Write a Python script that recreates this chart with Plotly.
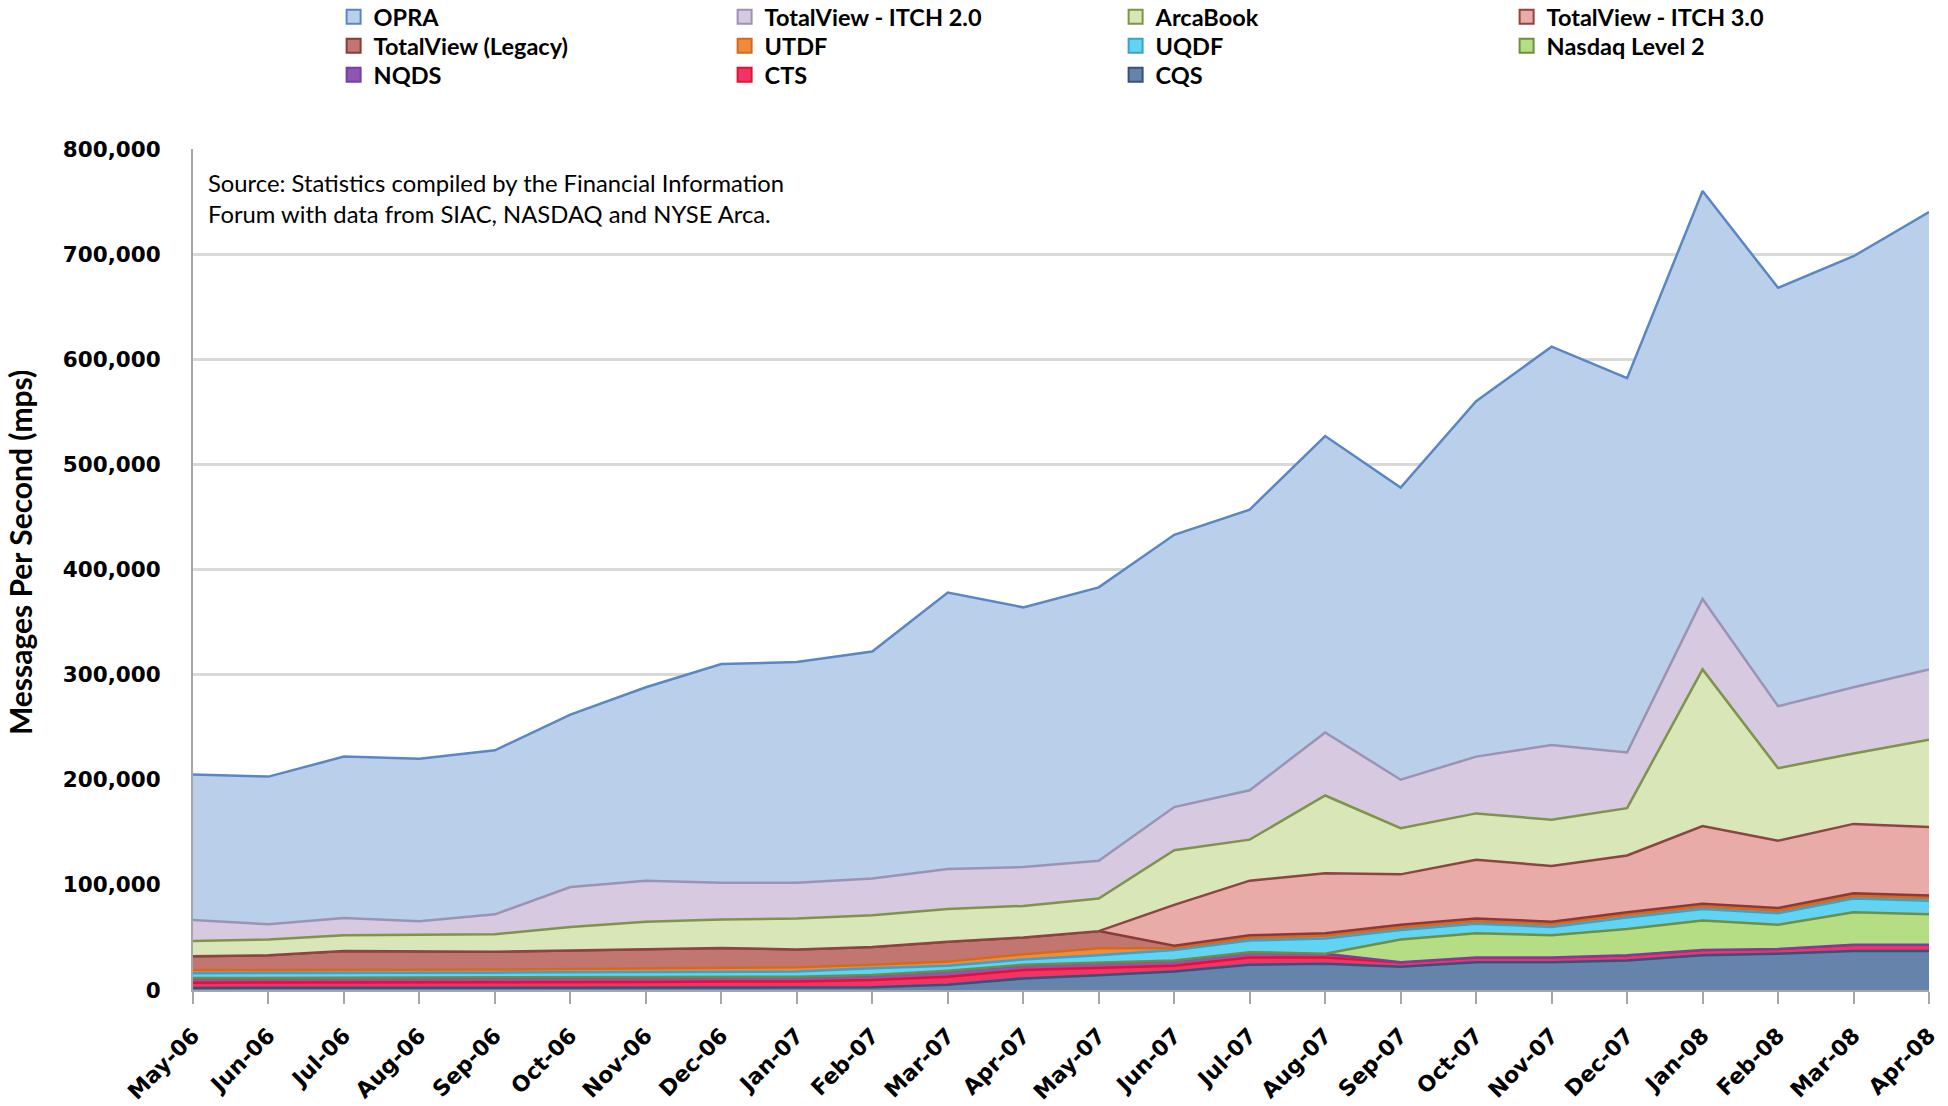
import plotly.graph_objects as go

months = ["May-06", "Jun-06", "Jul-06", "Aug-06", "Sep-06", "Oct-06", "Nov-06", "Dec-06",
          "Jan-07", "Feb-07", "Mar-07", "Apr-07", "May-07", "Jun-07", "Jul-07", "Aug-07",
          "Sep-07", "Oct-07", "Nov-07", "Dec-07", "Jan-08", "Feb-08", "Mar-08", "Apr-08"]

# Individual (non-cumulative) messages per second for each feed
cqs = [2000, 2000, 2000, 2000, 2000, 2000, 2000, 2000, 2000, 2500, 5000, 11000,
       14000, 17500, 24000, 25000, 22000, 26500, 26500, 28000, 33000, 34500, 37000, 37000]
cts = [5000, 5000, 5000, 5000, 5000, 5500, 5500, 6000, 6000, 7000, 7700, 8000,
       7000, 5500, 7000, 6000, 4500, 4500, 4500, 5000, 5000, 4500, 6000, 6000]
nqds = [4400, 4500, 5000, 5000, 5000, 4800, 5000, 4700, 4700, 4800, 5700, 5000,
        5000, 5000, 5000, 3500, 0, 0, 0, 0, 0, 0, 0, 0]
nasdaq_l2 = [0, 0, 0, 0, 0, 0, 0, 0, 0, 0, 0, 0,
             0, 0, 0, 0, 21500, 23000, 21000, 25000, 28000, 23000, 31000, 29000]
uqdf = [4600, 4500, 4500, 4500, 4500, 4700, 4500, 4800, 4800, 6300, 4600, 5000,
        7000, 10000, 11000, 14500, 9000, 9000, 8000, 11000, 11000, 11000, 13000, 13000]
utdf = [3000, 3000, 3000, 3000, 3000, 3000, 3500, 3500, 4100, 3400, 4000, 5000,
        6700, 2000, 2500, 2500, 2500, 2500, 2500, 2500, 2500, 2500, 2500, 2500]
tv_legacy = [13000, 14000, 17500, 17000, 17000, 17500, 18500, 19000, 16900, 17000, 19000, 16000,
             16300, 2000, 2500, 2500, 2500, 2500, 2500, 2500, 2500, 2500, 2500, 2500]
itch3 = [0, 0, 0, 0, 0, 0, 0, 0, 0, 0, 0, 0,
         0, 39000, 52000, 57000, 48000, 56000, 53000, 54000, 74000, 64000, 66000, 65000]
arcabook = [14500, 15000, 15000, 16000, 16500, 22500, 26000, 27000, 29500, 30000, 31000, 30000,
            31000, 52000, 39000, 74000, 44000, 44000, 44000, 45000, 149000, 69000, 67000, 83000]
itch2 = [20000, 14500, 16500, 13000, 19000, 38000, 39000, 35000, 34000, 35000, 38000, 37000,
         36000, 41000, 47000, 60000, 46000, 54000, 71000, 53000, 67000, 59000, 63000, 67000]
opra = [138500, 140500, 153500, 154500, 156000, 164000, 184000, 208000, 210000, 216000, 263000, 247000,
        260000, 259000, 267000, 282000, 278000, 338000, 379000, 356000, 388000, 398000, 410000, 435000]

y_ticks = [0, 100000, 200000, 300000, 400000, 500000, 600000, 700000, 800000]

# stacking order: bottom first
series = [
    ("CQS", cqs, "#6684ab", "#34527e"),
    ("CTS", cts, "#f03468", "#e8102e"),
    ("NQDS", nqds, "#8f55b3", "#7a3f9e"),
    ("Nasdaq Level 2", nasdaq_l2, "#b5de84", "#6f8f3e"),
    ("UQDF", uqdf, "#62d4f2", "#3aa2cc"),
    ("UTDF", utdf, "#ec8c3c", "#d8691a"),
    ("TotalView (Legacy)", tv_legacy, "#c27672", "#8c3a36"),
    ("TotalView - ITCH 3.0", itch3, "#e8aba8", "#8e4440"),
    ("ArcaBook", arcabook, "#d9e6b8", "#7e9448"),
    ("TotalView - ITCH 2.0", itch2, "#d6c9e0", "#9c93b4"),
    ("OPRA", opra, "#bad0ea", "#5a86c6"),
]

fig = go.Figure()
for name, vals, fillc, linec in series:
    fig.add_trace(go.Scatter(
        x=months, y=vals, name=name, mode="lines",
        stackgroup="one", fillcolor=fillc, showlegend=False,
        line=dict(color=linec, width=2.5),
    ))

# legend-only box markers, top layer first, split into three rows (one legend per row)
legend_rows = ["legend", "legend2", "legend3"]
for i, (name, vals, fillc, linec) in enumerate(reversed(series)):
    fig.add_trace(go.Scatter(
        x=[None], y=[None], name=name, mode="markers",
        marker=dict(symbol="square", size=14, color=fillc, line=dict(color=linec, width=2)),
        showlegend=True, legend=legend_rows[i // 4],
    ))

legend_font = dict(family="Lato", size=23.5, color="black", weight="bold")
legend_common = dict(
    orientation="h", traceorder="normal", x=0.081, xanchor="left", yanchor="middle",
    entrywidth=346, entrywidthmode="pixels", itemwidth=30,
    font=legend_font, bgcolor="rgba(0,0,0,0)",
)

fig.update_layout(
    width=1948, height=1106,
    margin=dict(l=193, r=19, t=149, b=116, autoexpand=False),
    paper_bgcolor="white", plot_bgcolor="white",
    showlegend=True,
    legend=dict(legend_common, y=1.157),
    legend2=dict(legend_common, y=1.1225),
    legend3=dict(legend_common, y=1.088),
    xaxis=dict(
        type="category", range=[0, 23],
        tickangle=-45, ticks="outside", ticklen=12, tickcolor="#a6a6a6", tickwidth=1.5,
        showline=True, linecolor="#a6a6a6", linewidth=2,
        showgrid=False, ticklabelstandoff=10,
        tickfont=dict(family="DejaVu Sans", size=22, color="black", weight="bold"),
    ),
    yaxis=dict(
        range=[0, 800000], tickvals=y_ticks, tickformat=",d",
        showgrid=True, gridcolor="#d9d9d9", gridwidth=3,
        showline=True, linecolor="#a6a6a6", linewidth=2,
        zeroline=False, ticks="", ticklabelstandoff=26,
        tickfont=dict(family="DejaVu Sans", size=21.5, color="black", weight="bold"),
    ),
    annotations=[
        dict(text="Messages Per Second (mps)", textangle=-90, xref="paper", yref="paper",
             x=-0.1, y=0.52, xanchor="center", yanchor="middle", showarrow=False,
             font=dict(family="Lato", size=30, color="black", weight="bold")),
        dict(text="Source: Statistics compiled by the Financial Information", xref="paper", yref="paper",
             x=0.0075, y=0.9595, xanchor="left", yanchor="middle", showarrow=False,
             font=dict(family="Lato", size=23.8, color="black")),
        dict(text="Forum with data from SIAC, NASDAQ and NYSE Arca.", xref="paper", yref="paper",
             x=0.0075, y=0.9225, xanchor="left", yanchor="middle", showarrow=False,
             font=dict(family="Lato", size=23.8, color="black")),
    ],
)

fig.write_html("out.html", config={"displayModeBar": False},
               post_script="document.body.style.margin='0';")
